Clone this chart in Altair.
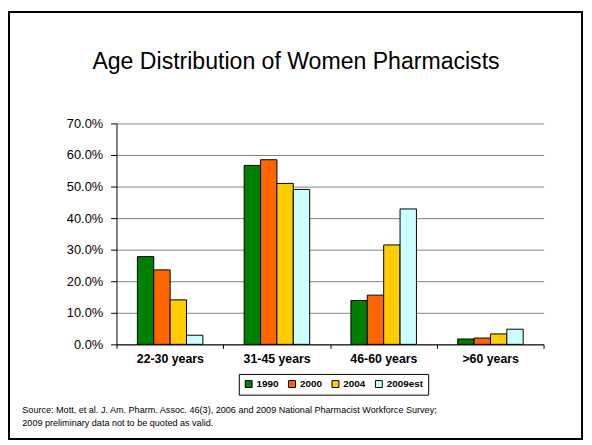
import altair as alt
import pandas as pd

categories = ["22-30 years", "31-45 years", "46-60 years", ">60 years"]
years = ["1990", "2000", "2004", "2009est"]
colors = ["#008000", "#FF6600", "#FFCC00", "#CCFFFF"]
v1990 = [0.278, 0.567, 0.139, 0.017]
v2000 = [0.236, 0.585, 0.156, 0.020]
v2004 = [0.141, 0.510, 0.315, 0.033]
v2009 = [0.029, 0.491, 0.429, 0.048]
y_ticks = [0.0, 0.1, 0.2, 0.3, 0.4, 0.5, 0.6, 0.7]

title_text = "Age Distribution of Women Pharmacists"
source_text = ("Source: Mott, et al. J. Am. Pharm. Assoc. 46(3), 2006 and 2009 National Pharmacist Workforce Survey;\n"
               "2009 preliminary data not to be quoted as valid.")

rows = []
for yr, vals in zip(years, [v1990, v2000, v2004, v2009]):
    for c, v in zip(categories, vals):
        rows.append({"cat": c, "year": yr, "val": v})
df = pd.DataFrame(rows)

FONT = "Liberation Sans, Arial, Helvetica, sans-serif"

bars = alt.Chart(df).mark_bar(stroke="black", strokeWidth=1).encode(
    x=alt.X("cat:N", sort=categories, title=None,
            scale=alt.Scale(paddingInner=0, paddingOuter=0),
            axis=alt.Axis(labelAngle=0, labelFontSize=12.5, labelFontWeight="bold",
                          labelColor="black", tickBand="extent", tickColor="black",
                          tickSize=4, domainColor="black", labelPadding=4, grid=False)),
    xOffset=alt.XOffset("year:N", sort=years,
                        scale=alt.Scale(range=[21.2, 87.6], paddingInner=0, paddingOuter=0)),
    y=alt.Y("val:Q", title=None,
            scale=alt.Scale(domain=[0, 0.7], nice=False),
            axis=alt.Axis(values=y_ticks, format=".1%", labelFontSize=13,
                          labelColor="black", tickColor="black", tickSize=6,
                          labelPadding=8, domainColor="black", gridColor="#808080",
                          gridWidth=1)),
    color=alt.Color("year:N", sort=years,
                    scale=alt.Scale(domain=years, range=colors),
                    legend=alt.Legend(title=None, orient="none", legendX=124, legendY=254,
                                      direction="horizontal", symbolType="square",
                                      symbolSize=49, symbolStrokeColor="black",
                                      symbolStrokeWidth=1, labelFontSize=10,
                                      labelFontWeight="bold", labelColor="black",
                                      strokeColor="black", padding=5, columnPadding=7,
                                      labelOffset=3)),
)

title = alt.Chart(pd.DataFrame({"t": [title_text]})).mark_text(
    fontSize=23.4, font=FONT, color="black", align="center", baseline="alphabetic"
).encode(text="t:N", x=alt.value(182), y=alt.value(-55))

source = alt.Chart(pd.DataFrame({"t": [source_text]})).mark_text(
    fontSize=9.2, font=FONT, color="black", align="left", baseline="alphabetic",
    lineBreak="\n", lineHeight=13
).encode(text="t:N", x=alt.value(-95.5), y=alt.value(294))

frame = alt.Chart(pd.DataFrame({"a": [0]})).mark_rect(
    fill=None, stroke="black", strokeWidth=2
).encode(x=alt.value(-109), x2=alt.value(472), y=alt.value(-113), y2=alt.value(320))

chart = alt.layer(bars, title, source, frame).properties(
    width=433, height=224,
    autosize=alt.AutoSizeParams(type="none"),
    padding={"left": 110, "top": 114, "right": 41, "bottom": 99},
).configure(font=FONT).configure_view(stroke=None)

chart.save("out.html", embed_options={"renderer": "svg", "actions": False})
